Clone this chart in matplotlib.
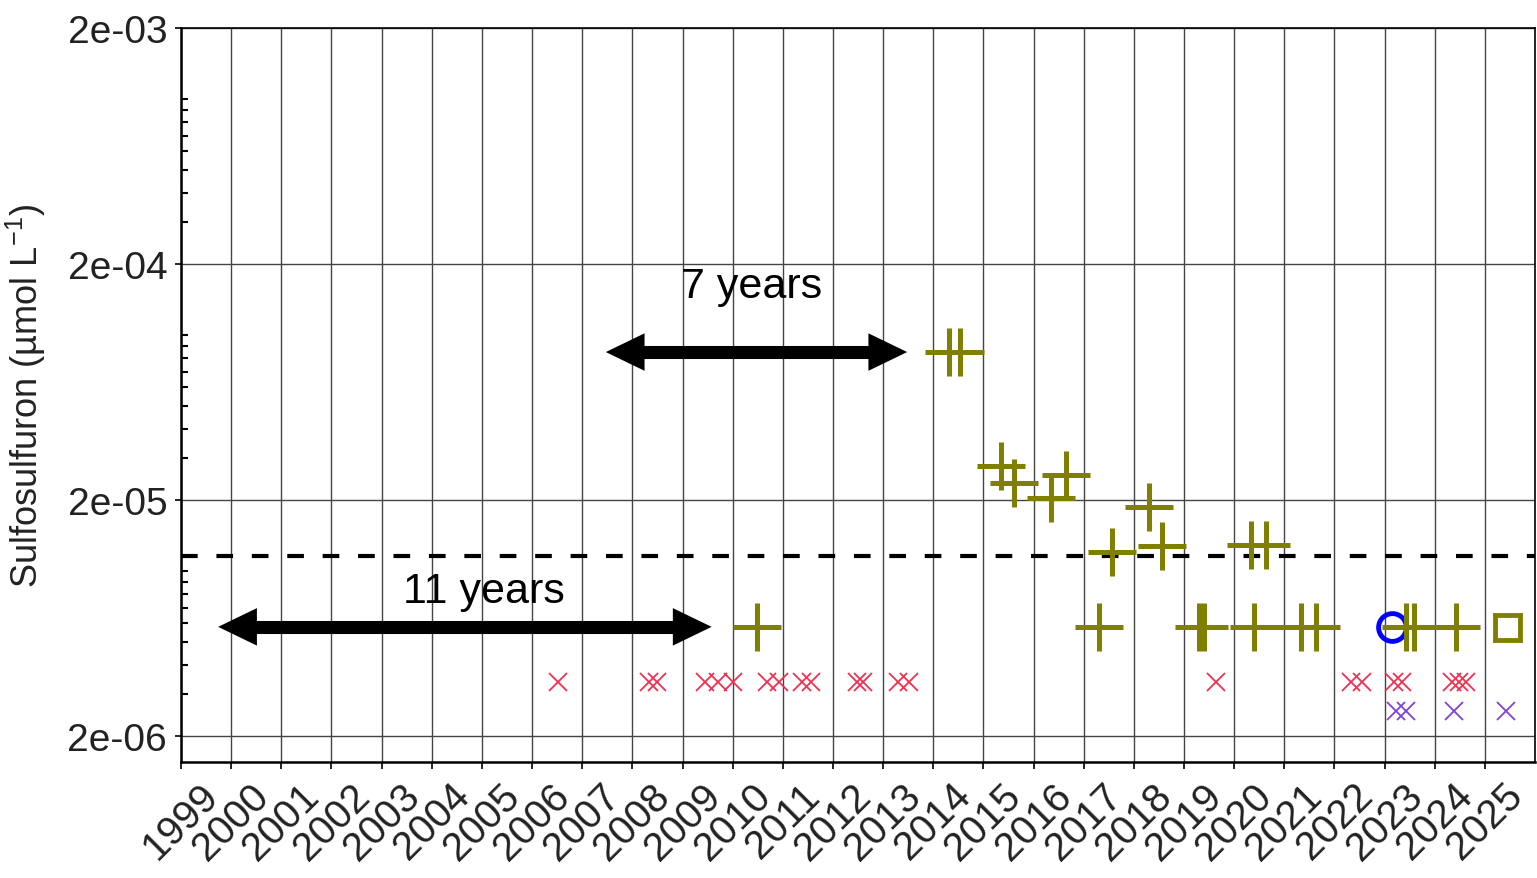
import numpy as np
import matplotlib
matplotlib.use('Agg')
import matplotlib.pyplot as plt
import matplotlib.ticker as mticker
from matplotlib.patches import FancyArrowPatch, ArrowStyle

plt.rcParams['font.family'] = ['Liberation Sans', 'DejaVu Sans']
plt.rcParams['mathtext.fontset'] = 'custom'
plt.rcParams['mathtext.rm'] = 'Liberation Sans'
plt.rcParams['mathtext.it'] = 'Liberation Sans:italic'

# detections (olive plus)
plus_years = [2010.48, 2014.32, 2014.54, 2015.36, 2015.62, 2016.35, 2016.65,
              2017.31, 2017.57, 2018.31, 2018.57, 2019.30, 2019.40, 2020.34,
              2020.40, 2020.64, 2021.33, 2021.63, 2023.43, 2023.59, 2024.42]
plus_vals = [5.8e-6, 8.47e-5, 8.47e-5, 2.79e-5, 2.36e-5, 2.04e-5, 2.55e-5,
             5.8e-6, 1.205e-5, 1.87e-5, 1.276e-5, 5.8e-6, 5.8e-6, 1.29e-5,
             5.8e-6, 1.29e-5, 5.8e-6, 5.8e-6, 5.8e-6, 5.8e-6, 5.8e-6]

# blue circle and olive square
circle_years = [2023.15]
circle_vals = [5.8e-6]
square_years = [2025.44]
square_vals = [5.8e-6]

# non detections
red_years = [2006.51, 2008.34, 2008.50, 2009.44, 2009.70, 2010.00, 2010.68,
             2010.93, 2011.39, 2011.57, 2012.47, 2012.59, 2013.29, 2013.52,
             2019.64, 2022.33, 2022.55, 2023.19, 2023.35, 2024.34, 2024.48,
             2024.62]
red_val = 3.39e-6
purple_years = [2023.23, 2023.43, 2024.38, 2025.42]
purple_val = 2.55e-6

threshold = 1.16e-5
years = list(range(1999, 2026))
ytick_vals = [2e-6, 2e-5, 2e-4, 2e-3]
ytick_labels = ['2e-06', '2e-05', '2e-04', '2e-03']

fig = plt.figure(figsize=(15.37, 8.79), dpi=100)
ax = fig.add_axes([0.1178, 0.132, 0.8809, 0.835])

ax.set_yscale('log')
ax.set_xlim(1999, 2026)
ax.set_ylim(1.552e-6, 2e-3)

ax.axhline(threshold, color='black', lw=3, dashes=(4, 4.5), zorder=3)

olive = '#7f7f00'
ax.plot(circle_years, circle_vals, 'o', mfc='none', mec='#0000ff', mew=3.5, ms=20, zorder=4)
ax.plot(plus_years, plus_vals, '+', color=olive, mew=3.6, ms=34, zorder=5)
ax.plot(square_years, square_vals, 's', mfc='none', mec=olive, mew=3.5, ms=18, zorder=5)
ax.plot(red_years, [red_val] * len(red_years), 'x', color='#f03050', mew=1.3, ms=13, zorder=4)
ax.plot(purple_years, [purple_val] * len(purple_years), 'x', color='#8040e0', mew=1.3, ms=13, zorder=4)

# arrows: a thick shaft plus two filled heads
def double_arrow(x0, x1, y):
    head = 0.5  # years
    ax.plot([x0 + head, x1 - head], [y, y], color='black', lw=9.4,
            solid_capstyle='butt', zorder=6)
    style = ArrowStyle.Simple(head_length=0.93, head_width=0.9, tail_width=0.2)
    for start, tip in ((x0 + 1.2, x0), (x1 - 1.2, x1)):
        a = FancyArrowPatch((start, y), (tip, y), arrowstyle=style, mutation_scale=30,
                            color='black', lw=0, shrinkA=0, shrinkB=0, zorder=6)
        ax.add_patch(a)

double_arrow(2007.47, 2013.48, 8.47e-5)
double_arrow(1999.74, 2009.58, 5.8e-6)
ax.text(2010.38, 1.61e-4, '7 years', fontsize=31, ha='center', va='center', zorder=7)
ax.text(2005.04, 8.22e-6, '11 years', fontsize=31, ha='center', va='center', zorder=7)

# ticks
ax.set_xticks(years)
ax.set_xticklabels([str(y) for y in years], rotation=45, fontsize=29, color='#222222')
ax.yaxis.set_major_locator(mticker.FixedLocator(ytick_vals))
ax.yaxis.set_major_formatter(mticker.FixedFormatter(ytick_labels))
ax.yaxis.set_minor_locator(mticker.LogLocator(base=10, subs=np.arange(1, 10)))
ax.yaxis.set_minor_formatter(mticker.NullFormatter())
ax.tick_params(axis='y', which='major', direction='out', length=4, width=1.2,
               labelsize=28, labelcolor='#222222', pad=6)
ax.tick_params(axis='y', which='minor', direction='in', length=5, width=1.5)
ax.tick_params(axis='x', which='major', direction='out', length=5, width=1.2, pad=5)
ax.tick_params(axis='x', which='minor', bottom=False)

ax.grid(which='major', color='#444444', lw=1.0, zorder=0)
ax.set_axisbelow(True)

for s in ['left', 'bottom']:
    ax.spines[s].set_linewidth(1.8)
for s in ['top', 'right']:
    ax.spines[s].set_linewidth(1.2)

ax.set_ylabel(r'Sulfosulfuron (µmol L$^{-1}$)', fontsize=26, color='#222222')
ax.yaxis.set_label_coords(-0.098, 0.5)

fig.savefig('out.png', dpi=100)
